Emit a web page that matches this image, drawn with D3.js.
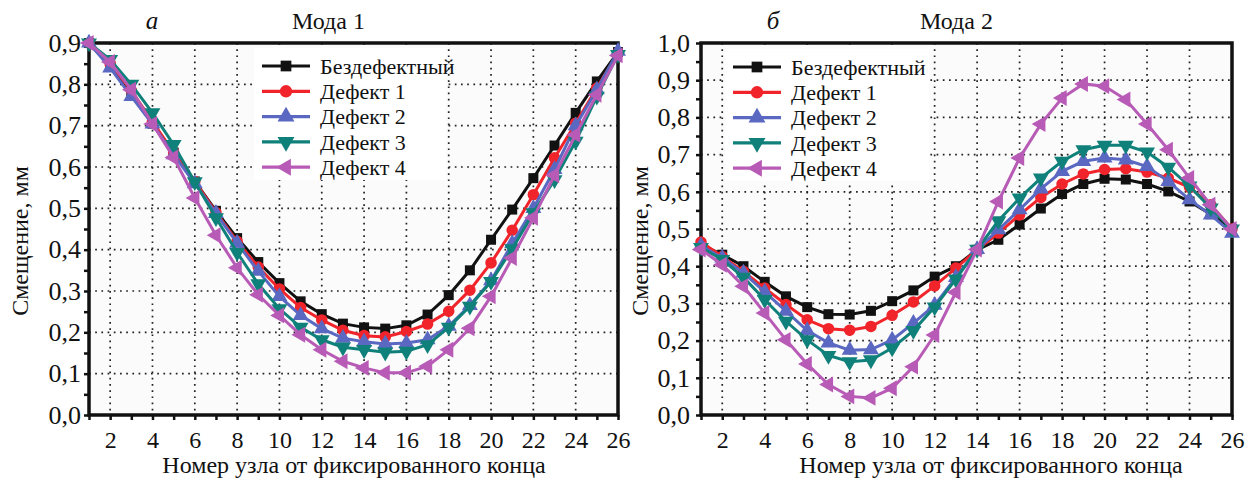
<!DOCTYPE html>
<html>
<head>
<meta charset="utf-8">
<script src="https://cdn.jsdelivr.net/npm/d3@7"></script>
<style>
  body { margin: 0; background: #fff; }
  text { font-family: "Liberation Serif", "Times New Roman", serif; fill: #111; }
</style>
</head>
<body>
<svg id="chart" width="1250" height="482"></svg>
<script>
// node numbers along the rod
const nodes = [1,2,3,4,5,6,7,8,9,10,11,12,13,14,15,16,17,18,19,20,21,22,23,24,25,26]
const xTickLabels = [2,4,6,8,10,12,14,16,18,20,22,24,26]

const seriesNames = ["Бездефектный", "Дефект 1", "Дефект 2", "Дефект 3", "Дефект 4"]

// Mode 1 displacement, mm
const m1Base = [0.90,0.845,0.775,0.705,0.635,0.565,0.494,0.428,0.37,0.319,0.275,0.244,0.221,0.212,0.209,0.217,0.243,0.29,0.35,0.424,0.497,0.573,0.652,0.731,0.807,0.878]
const m1Def1 = [0.90,0.85,0.785,0.71,0.635,0.565,0.49,0.42,0.358,0.305,0.26,0.23,0.205,0.192,0.189,0.202,0.22,0.251,0.302,0.368,0.447,0.533,0.622,0.706,0.791,0.876]
const m1Def2 = [0.90,0.84,0.771,0.704,0.63,0.56,0.488,0.416,0.348,0.287,0.241,0.209,0.186,0.177,0.172,0.174,0.182,0.215,0.265,0.325,0.415,0.50,0.594,0.70,0.787,0.88]
const m1Def3 = [0.90,0.86,0.80,0.731,0.654,0.564,0.477,0.393,0.317,0.257,0.212,0.182,0.164,0.158,0.152,0.154,0.17,0.212,0.263,0.323,0.402,0.489,0.569,0.662,0.771,0.872]
const m1Def4 = [0.90,0.854,0.787,0.704,0.623,0.525,0.435,0.356,0.291,0.241,0.194,0.158,0.13,0.114,0.102,0.102,0.118,0.158,0.21,0.287,0.38,0.477,0.58,0.678,0.775,0.87]

// Mode 2 displacement, mm
const m2Base = [0.458,0.431,0.40,0.358,0.319,0.29,0.271,0.27,0.28,0.306,0.335,0.372,0.40,0.444,0.471,0.512,0.555,0.594,0.621,0.635,0.633,0.621,0.601,0.574,0.54,0.50]
const m2Def1 = [0.465,0.426,0.386,0.341,0.297,0.256,0.232,0.228,0.238,0.268,0.304,0.347,0.395,0.444,0.489,0.538,0.585,0.621,0.648,0.66,0.662,0.653,0.637,0.612,0.565,0.50]
const m2Def2 = [0.455,0.422,0.382,0.331,0.279,0.227,0.194,0.174,0.176,0.202,0.247,0.295,0.37,0.445,0.498,0.552,0.608,0.655,0.682,0.691,0.686,0.668,0.628,0.579,0.538,0.489]
const m2Def3 = [0.45,0.418,0.37,0.31,0.252,0.202,0.16,0.143,0.148,0.18,0.227,0.29,0.365,0.445,0.522,0.583,0.637,0.682,0.713,0.725,0.725,0.707,0.666,0.615,0.556,0.50]
const m2Def4 = [0.445,0.404,0.346,0.274,0.202,0.137,0.082,0.05,0.046,0.072,0.13,0.215,0.33,0.445,0.574,0.691,0.782,0.852,0.89,0.884,0.848,0.782,0.713,0.637,0.565,0.50]

const m1YTicks = [0,0.1,0.2,0.3,0.4,0.5,0.6,0.7,0.8,0.9]
const m2YTicks = [0,0.1,0.2,0.3,0.4,0.5,0.6,0.7,0.8,0.9,1.0]

const colors = ["#111111", "#f0242a", "#5a68c2", "#10807a", "#b85bb6"]
// marker: symbol type + rotation
const markers = [
  { type: d3.symbolSquare, size: 100, rot: 0 },
  { type: d3.symbolCircle, size: 105, rot: 0 },
  { type: d3.symbolTriangle, size: 110, rot: 0 },
  { type: d3.symbolTriangle, size: 110, rot: 180 },
  { type: d3.symbolTriangle, size: 110, rot: -90 }
]

const svg = d3.select("#chart")
const fmt = v => d3.format(".1f")(v).replace(".", ",")

function drawPanel(p) {
  const x = d3.scaleLinear().domain([1, 26]).range([p.left, p.right])
  const y = d3.scaleLinear().domain([0, p.yMax]).range([p.bottom, p.top])
  const g = svg.append("g")

  g.append("rect")
    .attr("x", p.left).attr("y", p.top)
    .attr("width", p.right - p.left).attr("height", p.bottom - p.top)
    .attr("fill", "#fbfbfb")

  // dotted grid
  g.append("g").selectAll("line")
    .data(xTickLabels.filter(d => d < 26))
    .join("line")
    .attr("x1", d => x(d)).attr("x2", d => x(d))
    .attr("y1", p.top).attr("y2", p.bottom)
    .attr("stroke", "#222").attr("stroke-width", 1.7)
    .attr("stroke-dasharray", "1.7,4.5")
  g.append("g").selectAll("line")
    .data(p.yTicks.filter(d => d > 0 && d < p.yMax))
    .join("line")
    .attr("y1", d => y(d)).attr("y2", d => y(d))
    .attr("x1", p.left).attr("x2", p.right)
    .attr("stroke", "#222").attr("stroke-width", 1.7)
    .attr("stroke-dasharray", "1.7,4.5")

  // legend backdrop hides grid
  g.append("rect")
    .attr("x", p.legX - 8).attr("y", p.legY - 18)
    .attr("width", p.legW).attr("height", 132)
    .attr("fill", "#fff")

  // axes
  const xAxis = d3.axisBottom(x)
    .tickValues(nodes)
    .tickSize(5)
    .tickPadding(11)
    .tickFormat(d => xTickLabels.includes(d) ? d : "")
  const ax = g.append("g")
    .attr("transform", "translate(0," + p.bottom + ")")
    .call(xAxis)
  ax.select(".domain").remove()
  ax.selectAll("line").attr("stroke", "#111").attr("stroke-width", 2.5)
  ax.selectAll("text").attr("font-size", 24).attr("font-family", "Liberation Serif").attr("fill", "#111")

  const minorY = []
  p.yTicks.forEach(d => { minorY.push(d); if (d < p.yMax) minorY.push(d + 0.05) })
  const yAxis = d3.axisLeft(y)
    .tickValues(minorY)
    .tickSize(5)
    .tickPadding(p.yPad)
    .tickFormat(d => p.yTicks.some(t => Math.abs(t - d) < 1e-6) ? fmt(d) : "")
  const ay = g.append("g")
    .attr("transform", "translate(" + p.left + ",0)")
    .call(yAxis)
  ay.select(".domain").remove()
  ay.selectAll("line").attr("stroke", "#111").attr("stroke-width", 2.5)
  ay.selectAll("text").attr("font-size", 26).attr("font-family", "Liberation Serif").attr("fill", "#111")

  // frame
  g.append("rect")
    .attr("x", p.left).attr("y", p.top)
    .attr("width", p.right - p.left).attr("height", p.bottom - p.top)
    .attr("fill", "none").attr("stroke", "#111").attr("stroke-width", 3.5)

  // series
  const line = d3.line().x((d, i) => x(nodes[i])).y(d => y(d))
  p.series.forEach((vals, si) => {
    const sg = g.append("g")
    sg.append("path")
      .datum(vals)
      .attr("d", line)
      .attr("fill", "none")
      .attr("stroke", colors[si])
      .attr("stroke-width", 3)
    const sym = d3.symbol().type(markers[si].type).size(markers[si].size)
    sg.selectAll("path.m")
      .data(vals)
      .join("path")
      .attr("class", "m")
      .attr("d", sym)
      .attr("transform", (d, i) => "translate(" + x(nodes[i]) + "," + y(d) + ") rotate(" + markers[si].rot + ")")
      .attr("fill", colors[si])
  })

  // legend
  seriesNames.forEach((name, si) => {
    const ly = p.legY + si * 25.3
    g.append("line")
      .attr("x1", p.legX).attr("x2", p.legX + 48)
      .attr("y1", ly).attr("y2", ly)
      .attr("stroke", colors[si]).attr("stroke-width", 3.2)
    g.append("path")
      .attr("d", d3.symbol().type(markers[si].type).size(markers[si].size + 15))
      .attr("transform", "translate(" + (p.legX + 24) + "," + ly + ") rotate(" + markers[si].rot + ")")
      .attr("fill", colors[si])
    g.append("text")
      .attr("x", p.legX + 58).attr("y", ly)
      .attr("dy", "0.35em")
      .attr("font-size", 22)
      .text(name)
  })

  // titles
  g.append("text")
    .attr("x", p.letterX).attr("y", 29)
    .attr("text-anchor", "middle")
    .attr("font-style", "italic")
    .attr("font-size", 25)
    .text(p.letter)
  g.append("text")
    .attr("x", p.titleX).attr("y", 29)
    .attr("font-size", 24)
    .text(p.title)
  g.append("text")
    .attr("x", p.xTitleX).attr("y", 473)
    .attr("text-anchor", "middle")
    .attr("font-size", 24)
    .text("Номер узла от фиксированного конца")
  g.append("text")
    .attr("transform", "translate(" + p.yTitleX + ",241) rotate(-90)")
    .attr("text-anchor", "middle")
    .attr("font-size", 24)
    .text("Смещение, мм")
}

drawPanel({
  left: 89, right: 618, top: 43, bottom: 415, yMax: 0.9, yTicks: m1YTicks, yPad: 3,
  series: [m1Base, m1Def1, m1Def2, m1Def3, m1Def4],
  legX: 262, legY: 66, legW: 192,
  letter: "а", letterX: 152, title: "Мода 1", titleX: 292,
  xTitleX: 354, yTitleX: 28
})

drawPanel({
  left: 701, right: 1232, top: 43, bottom: 415, yMax: 1.0, yTicks: m2YTicks, yPad: 6,
  series: [m2Base, m2Def1, m2Def2, m2Def3, m2Def4],
  legX: 733, legY: 67, legW: 204,
  letter: "б", letterX: 773, title: "Мода 2", titleX: 920,
  xTitleX: 991, yTitleX: 648
})
</script>
</body>
</html>
